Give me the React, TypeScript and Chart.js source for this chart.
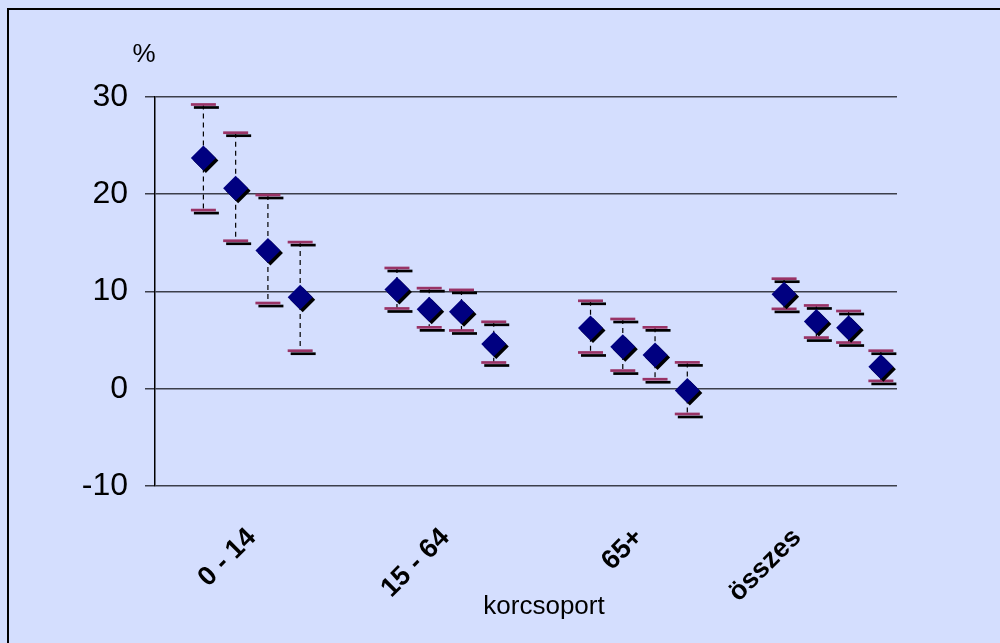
import React, { useEffect, useRef } from 'react';
import { Chart, registerables } from 'chart.js';

Chart.register(...registerables);

// Age groups on the category axis
const groups = ['0 - 14', '15 - 64', '65+', 'összes'];

// Four estimates per age group (%), with their lower and upper bounds
const estimates = [23.7, 20.6, 14.2, 9.4, 10.2, 8.15, 7.9, 4.6, 6.24, 4.3, 3.45, -0.2, 9.7, 6.9, 6.25, 2.26];
const upperBounds = [29.2, 26.3, 19.9, 15.06, 12.4, 10.33, 10.15, 6.87, 9.03, 7.16, 6.3, 2.7, 11.3, 8.55, 7.98, 3.9];
const lowerBounds = [18.35, 15.2, 8.8, 3.9, 8.24, 6.3, 5.98, 2.69, 3.72, 1.86, 0.97, -2.6, 8.2, 5.25, 4.74, 0.8];

// Value axis
const yMin = -10;
const yMax = 30;
const yStep = 10;

// Slot layout of the category axis: 23 slots, each group uses 4 and leaves 2 empty between groups
const SLOT_COUNT = 23;
const SLOTS_PER_GROUP = 6;
const FIRST_SLOT = 1.5;
const GROUP_LABEL_SLOTS = [3, 9, 15, 19.9];

const BG = '#D4DEFE';
const NAVY = '#000080';
const CAP = '#993366';
const FONT = '"Liberation Sans", Arial, Helvetica, sans-serif';

const points = estimates.map((v, i) => ({
  x: Math.floor(i / 4) * SLOTS_PER_GROUP + (i % 4) + FIRST_SLOT,
  y: v,
}));

const errorBars = {
  id: 'errorBars',
  beforeDatasetsDraw(chart: any) {
    const { ctx } = chart;
    const yScale = chart.scales.y;
    const meta = chart.getDatasetMeta(0);
    const capHalf = 12.5;
    const r = 12.5;
    ctx.save();
    meta.data.forEach((pt: any, i: number) => {
      const px = pt.x;
      const yu = yScale.getPixelForValue(upperBounds[i]);
      const yl = yScale.getPixelForValue(lowerBounds[i]);
      // dashed stem
      ctx.setLineDash([5, 4]);
      ctx.strokeStyle = '#000';
      ctx.lineWidth = 1.2;
      ctx.beginPath();
      ctx.moveTo(px, yu);
      ctx.lineTo(px, yl);
      ctx.stroke();
      ctx.setLineDash([]);
      // caps with a drop shadow
      ctx.lineWidth = 2.7;
      [yu, yl].forEach((cy) => {
        ctx.strokeStyle = '#000';
        ctx.beginPath();
        ctx.moveTo(px - capHalf + 3, cy + 3);
        ctx.lineTo(px + capHalf + 3, cy + 3);
        ctx.stroke();
        ctx.strokeStyle = CAP;
        ctx.beginPath();
        ctx.moveTo(px - capHalf, cy);
        ctx.lineTo(px + capHalf, cy);
        ctx.stroke();
      });
      // diamond shadow
      const sx = px + 2.5;
      const sy = pt.y + 2.5;
      ctx.fillStyle = '#000';
      ctx.beginPath();
      ctx.moveTo(sx - r, sy);
      ctx.lineTo(sx, sy - r);
      ctx.lineTo(sx + r, sy);
      ctx.lineTo(sx, sy + r);
      ctx.closePath();
      ctx.fill();
    });
    ctx.restore();
  },
  afterDraw(chart: any) {
    const { ctx, chartArea } = chart;
    ctx.save();
    ctx.fillStyle = '#000';
    ctx.textAlign = 'center';
    ctx.textBaseline = 'middle';
    ctx.font = `26px ${FONT}`;
    ctx.fillText('%', chartArea.left - 11, chartArea.top - 42);
    ctx.fillText('korcsoport', (chartArea.left + chartArea.right) / 2 + 18, chartArea.bottom + 121);
    ctx.restore();
  },
};

export default function App() {
  const canvasRef = useRef<HTMLCanvasElement | null>(null);

  useEffect(() => {
    const canvas = canvasRef.current;
    if (!canvas) return;
    const chart = new Chart(canvas, {
      type: 'scatter',
      data: {
        datasets: [
          {
            data: points,
            pointStyle: 'rectRot',
            pointRadius: 12.5,
            pointHoverRadius: 12.5,
            pointBackgroundColor: NAVY,
            pointBorderWidth: 0,
            pointHoverBorderWidth: 0,
            showLine: false,
          },
        ],
      },
      options: {
        responsive: false,
        animation: false,
        devicePixelRatio: 1,
        events: [],
        layout: { padding: { left: 0, top: 96.7, right: 103, bottom: 0 } },
        plugins: {
          legend: { display: false },
          tooltip: { enabled: false },
        },
        scales: {
          x: {
            type: 'linear',
            min: 0,
            max: SLOT_COUNT,
            grid: { display: false, drawTicks: false },
            border: { display: false },
            afterBuildTicks: (axis: any) => {
              axis.ticks = GROUP_LABEL_SLOTS.map((v) => ({ value: v }));
            },
            afterFit: (scale: any) => {
              scale.height = 157;
            },
            ticks: {
              autoSkip: false,
              maxRotation: 45,
              minRotation: 45,
              padding: 36,
              color: '#000',
              font: { family: FONT, size: 27, weight: 'bold' },
              callback: (_v: any, index: number) => groups[index],
            },
          },
          y: {
            min: yMin,
            max: yMax,
            afterFit: (scale: any) => {
              scale.width = 155;
            },
            grid: {
              color: '#3c3f4a',
              lineWidth: 1.5,
              tickLength: 10,
              drawTicks: true,
            },
            border: { display: true, color: '#000', width: 1.5 },
            ticks: {
              stepSize: yStep,
              padding: 17,
              color: '#000',
              font: { family: FONT, size: 32 },
            },
          },
        },
      },
      plugins: [errorBars],
    } as any);
    return () => chart.destroy();
  }, []);

  return (
    <div style={{ position: 'fixed', left: 0, top: 0, width: 1000, height: 643, background: BG, overflow: 'hidden' }}>
      <canvas ref={canvasRef} width={1000} height={643} style={{ position: 'absolute', left: 0, top: 0 }} />
      <div
        style={{
          position: 'absolute',
          left: 7,
          top: 8,
          width: 1100,
          height: 800,
          border: '2px solid #000',
          pointerEvents: 'none',
        }}
      />
    </div>
  );
}
